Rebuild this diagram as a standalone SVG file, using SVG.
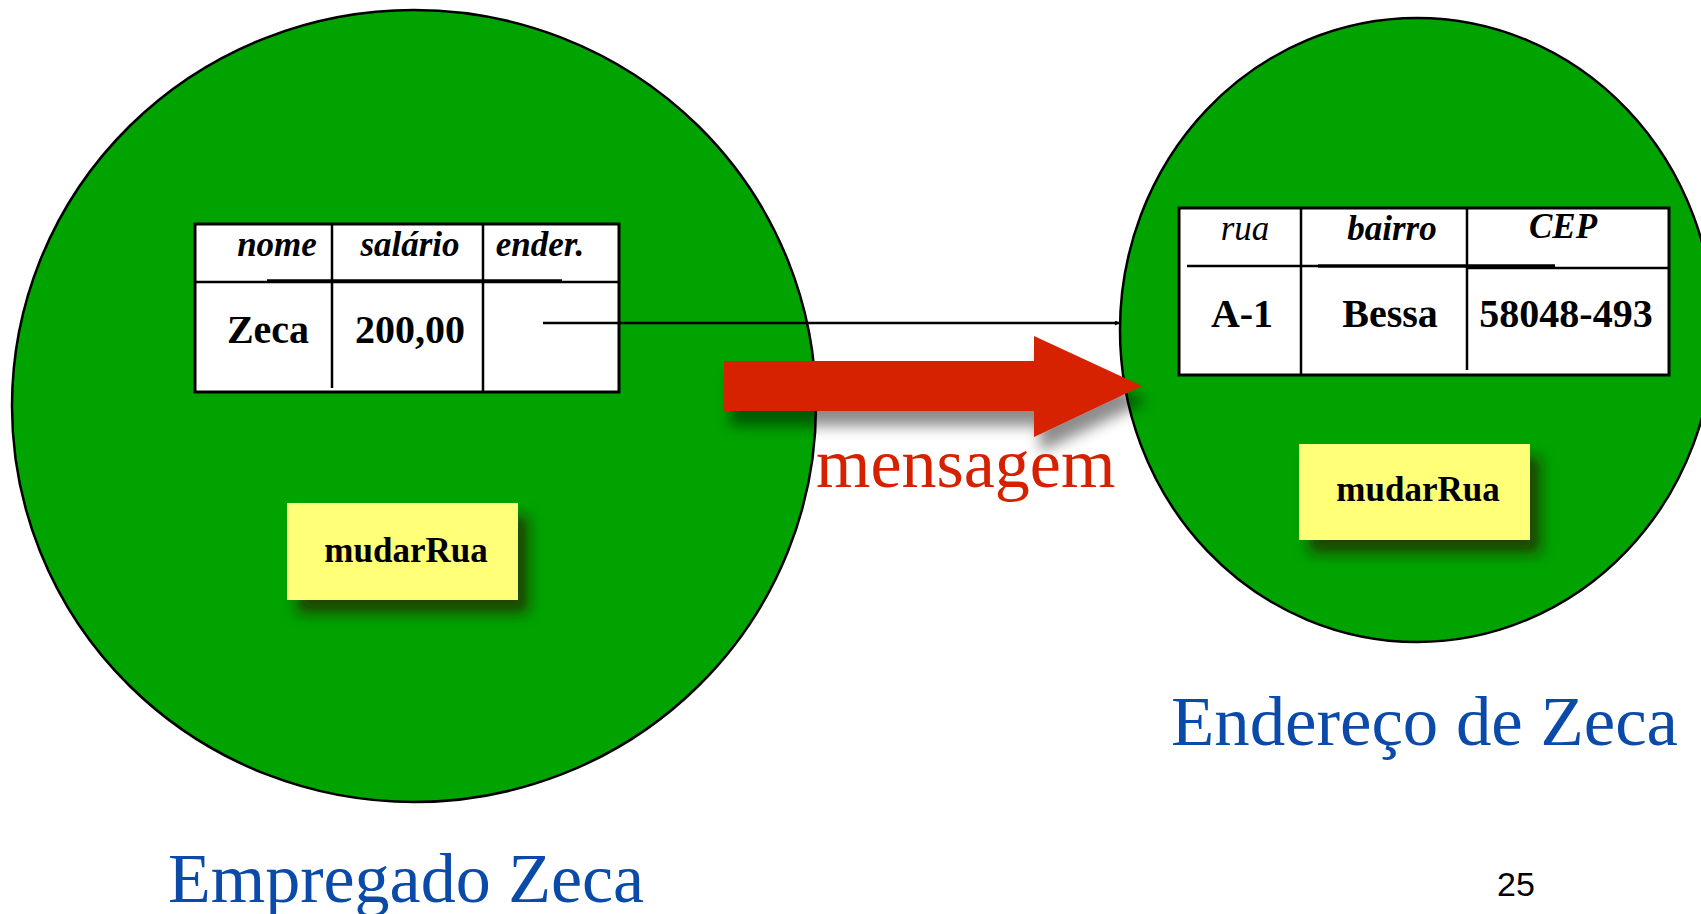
<svg xmlns="http://www.w3.org/2000/svg" width="1701" height="914" viewBox="0 0 1701 914">
  <style>
    .obj { fill: #00a300; stroke: #000; stroke-width: 2.5; }
    .tbl { fill: #fff; stroke: #000; stroke-width: 3; }
    .rule { stroke: #000; stroke-width: 2.5; fill: none; }
    .rule-thick { stroke: #000; stroke-width: 3.5; fill: none; }
    .head { font-family: "Liberation Serif", "Times New Roman", serif; font-size: 35px; font-style: italic; font-weight: bold; fill: #000; }
    .head-plain { font-family: "Liberation Serif", "Times New Roman", serif; font-size: 35px; font-style: italic; fill: #000; }
    .cell { font-family: "Liberation Serif", "Times New Roman", serif; font-size: 40px; font-weight: bold; fill: #000; }
    .method { fill: #ffff78; }
    .method-text { font-family: "Liberation Serif", "Times New Roman", serif; font-size: 35px; font-weight: bold; fill: #000; }
    .caption { font-family: "Liberation Serif", "Times New Roman", serif; font-size: 70px; fill: #0a4aa8; }
    .msg { font-family: "Liberation Serif", "Times New Roman", serif; font-size: 70px; fill: #d62100; }
    .page { font-family: "Liberation Sans", Arial, sans-serif; font-size: 34px; fill: #000; }
  </style>
  <defs>
    <filter id="boxShadow" x="-20%" y="-30%" width="160%" height="180%">
      <feGaussianBlur in="SourceAlpha" stdDeviation="7"/>
      <feOffset dx="10" dy="13" result="b"/>
      <feFlood flood-color="#2a1a00" flood-opacity="0.7"/>
      <feComposite in2="b" operator="in" result="s"/>
      <feMerge><feMergeNode in="s"/><feMergeNode in="SourceGraphic"/></feMerge>
    </filter>
    <filter id="arrowShadow" x="-10%" y="-30%" width="120%" height="180%">
      <feGaussianBlur in="SourceAlpha" stdDeviation="7"/>
      <feOffset dx="6" dy="15" result="b"/>
      <feFlood flood-color="#000" flood-opacity="0.45"/>
      <feComposite in2="b" operator="in" result="s"/>
      <feMerge><feMergeNode in="s"/><feMergeNode in="SourceGraphic"/></feMerge>
    </filter>
    <marker id="tip" viewBox="0 0 10 10" refX="10" refY="5" markerWidth="5" markerHeight="5" orient="auto" markerUnits="userSpaceOnUse">
      <path d="M0,0 L10,5 L0,10 z" fill="#000"/>
    </marker>
  </defs>

  <!-- Employee object -->
  <g id="empregado">
    <ellipse class="obj" cx="414" cy="406" rx="402" ry="396"/>
    <rect class="tbl" x="195" y="224" width="424" height="168"/>
    <line class="rule" x1="195" y1="282" x2="619" y2="282"/>
    <line class="rule-thick" x1="267" y1="281" x2="562" y2="281"/>
    <line class="rule" x1="332" y1="224" x2="332" y2="388"/>
    <line class="rule" x1="483" y1="224" x2="483" y2="392"/>
    <text class="head" x="277" y="256" text-anchor="middle">nome</text>
    <text class="head" x="410" y="256" text-anchor="middle">salário</text>
    <text class="head" x="540" y="256" text-anchor="middle">ender.</text>
    <text class="cell" x="268" y="343" text-anchor="middle">Zeca</text>
    <text class="cell" x="410" y="343" text-anchor="middle">200,00</text>
    <g id="empregado-mudarRua">
      <rect class="method" x="287" y="503" width="231" height="97" filter="url(#boxShadow)"/>
      <text class="method-text" x="406" y="562" text-anchor="middle">mudarRua</text>
    </g>
  </g>

  <!-- Address object -->
  <g id="endereco">
    <ellipse class="obj" cx="1417" cy="330" rx="297" ry="312"/>
    <rect class="tbl" x="1179" y="208" width="490" height="167"/>
    <line class="rule" x1="1187" y1="266" x2="1318" y2="266"/>
    <line class="rule-thick" x1="1318" y1="266" x2="1555" y2="266"/>
    <line class="rule" x1="1467" y1="268" x2="1669" y2="268"/>
    <line class="rule" x1="1301" y1="208" x2="1301" y2="375"/>
    <line class="rule" x1="1467" y1="208" x2="1467" y2="370"/>
    <text class="head-plain" x="1245" y="240" text-anchor="middle">rua</text>
    <text class="head" x="1392" y="240" text-anchor="middle">bairro</text>
    <text class="head" x="1563" y="238" text-anchor="middle">CEP</text>
    <text class="cell" x="1242" y="327" text-anchor="middle">A-1</text>
    <text class="cell" x="1390" y="327" text-anchor="middle">Bessa</text>
    <text class="cell" x="1566" y="327" text-anchor="middle">58048-493</text>
    <g id="endereco-mudarRua">
      <rect class="method" x="1299" y="444" width="231" height="96" filter="url(#boxShadow)"/>
      <text class="method-text" x="1418" y="501" text-anchor="middle">mudarRua</text>
    </g>
  </g>

  <!-- Reference from the ender. field to the address object -->
  <g id="connectors">
    <line x1="543" y1="323" x2="1120" y2="323" stroke="#000" stroke-width="2.5" marker-end="url(#tip)"/>
  </g>

  <!-- Message arrow -->
  <g id="mensagem">
    <path d="M724,361 L1034,361 L1034,336 L1142,386 L1034,437 L1034,411 L724,411 Z" fill="#d62100" filter="url(#arrowShadow)"/>
    <text class="msg" x="816" y="487">mensagem</text>
  </g>

  <!-- Captions -->
  <text class="caption" x="168" y="902">Empregado Zeca</text>
  <text class="caption" x="1171" y="745" textLength="507" lengthAdjust="spacingAndGlyphs">Endereço de Zeca</text>
  <text class="page" x="1516" y="896" text-anchor="middle">25</text>
</svg>
